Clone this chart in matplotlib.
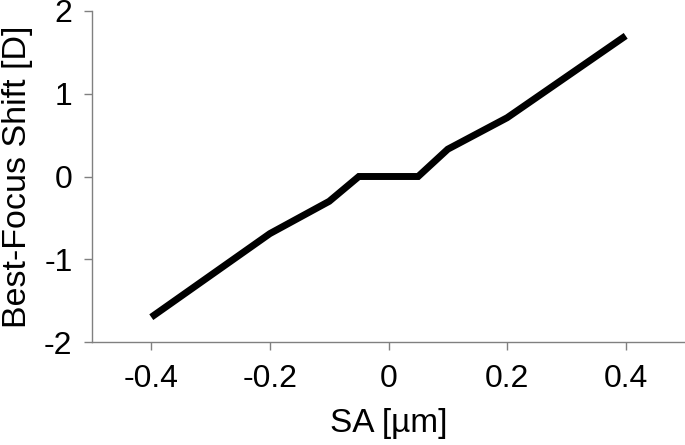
import matplotlib
matplotlib.use("Agg")
import matplotlib.pyplot as plt

sa = [-0.4, -0.2, -0.1, -0.05, 0.05, 0.1, 0.2, 0.4]
shift = [-1.7, -0.69, -0.3, 0.0, 0.0, 0.33, 0.71, 1.7]
xticks = [-0.4, -0.2, 0, 0.2, 0.4]
xticklabels = ["-0.4", "-0.2", "0", "0.2", "0.4"]
yticks = [-2, -1, 0, 1, 2]
yticklabels = ["-2", "-1", "0", "1", "2"]

plt.rcParams['font.family'] = ['Liberation Sans', 'DejaVu Sans']
fig = plt.figure(figsize=(6.85, 4.45), dpi=100)
ax = fig.add_axes([92/685, 1-342/445, 1-92/685, (342-11)/445])
ax.plot(sa, shift, color='black', lw=5, solid_capstyle='butt', solid_joinstyle='miter')
ax.set_xlim(-0.5, 0.5)
ax.set_ylim(-2, 2)
ax.set_xticks(xticks)
ax.set_xticklabels(xticklabels)
ax.set_yticks(yticks)
ax.set_yticklabels(yticklabels)
for s in ['top', 'right']:
    ax.spines[s].set_visible(False)
for s in ['left', 'bottom']:
    ax.spines[s].set_color('#808080')
    ax.spines[s].set_linewidth(1)
ax.tick_params(axis='both', direction='out', length=6, width=1, color='#808080', labelsize=23)
ax.tick_params(axis='y', pad=8)
ax.tick_params(axis='x', pad=10)
ax.set_xlabel('SA [µm]', fontsize=24, labelpad=10)
ax.set_ylabel('Best-Focus Shift [D]', fontsize=24.5, labelpad=8)
fig.savefig('out.png', dpi=100)
